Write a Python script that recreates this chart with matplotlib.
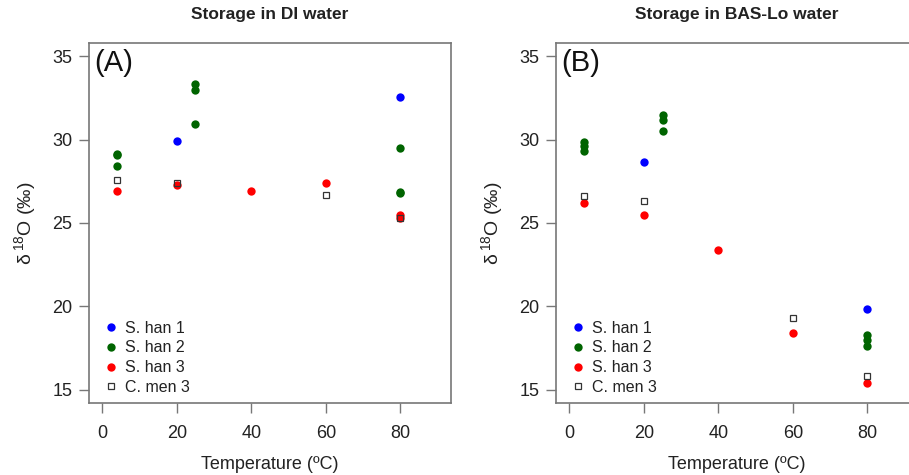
import matplotlib
matplotlib.use("Agg")
import matplotlib.pyplot as plt

plt.rcParams['font.family'] = ['Liberation Sans', 'DejaVu Sans']
plt.rcParams['mathtext.default'] = 'regular'

# panel A: storage in DI water
a_han1_x = [20, 80]
a_han1_y = [29.9, 32.55]
a_han2_x = [4, 4, 4, 25, 25, 25, 80, 80, 80]
a_han2_y = [29.15, 29.05, 28.4, 33.35, 33.0, 30.95, 29.5, 26.85, 26.8]
a_han3_x = [4, 20, 40, 60, 80, 80]
a_han3_y = [26.9, 27.3, 26.9, 27.4, 25.45, 25.3]
a_cmen3_x = [4, 20, 60, 80]
a_cmen3_y = [27.6, 27.4, 26.7, 25.3]

# panel B: storage in BAS-Lo water
b_han1_x = [20, 80]
b_han1_y = [28.65, 19.85]
b_han2_x = [4, 4, 4, 25, 25, 25, 80, 80, 80]
b_han2_y = [29.85, 29.6, 29.3, 31.45, 31.15, 30.5, 18.3, 18.0, 17.6]
b_han3_x = [4, 20, 40, 60, 80]
b_han3_y = [26.2, 25.5, 23.4, 18.4, 15.4]
b_cmen3_x = [4, 20, 60, 80]
b_cmen3_y = [26.6, 26.3, 19.3, 15.8]

labels = ["S. han 1", "S. han 2", "S. han 3", "C. men 3"]
titles = ["Storage in DI water", "Storage in BAS-Lo water"]
tags = ["(A)", "(B)"]
xticks = [0, 20, 40, 60, 80]
yticks = [15, 20, 25, 30, 35]

fig = plt.figure(figsize=(9.09, 4.75), dpi=100)
ax_a = fig.add_axes([0.0979, 0.1516, 0.3982, 0.758])
ax_b = fig.add_axes([0.6117, 0.1516, 0.3982, 0.758])

panels = [
    (ax_a, a_han1_x, a_han1_y, a_han2_x, a_han2_y, a_han3_x, a_han3_y, a_cmen3_x, a_cmen3_y),
    (ax_b, b_han1_x, b_han1_y, b_han2_x, b_han2_y, b_han3_x, b_han3_y, b_cmen3_x, b_cmen3_y),
]

for i, (ax, x1, y1, x2, y2, x3, y3, x4, y4) in enumerate(panels):
    ax.plot(x1, y1, 'o', color='#0000ff', ms=6, mec='none', label=labels[0])
    ax.plot(x2, y2, 'o', color='#006400', ms=6, mec='none', label=labels[1])
    ax.plot(x3, y3, 'o', color='#ff0000', ms=6, mec='none', label=labels[2])
    ax.plot(x4, y4, 's', mfc='none', mec='#333333', ms=4.5, mew=0.9, label=labels[3])

    ax.set_xlim(-3.6, 93.6)
    ax.set_ylim(14.2, 35.8)
    ax.set_xticks(xticks)
    ax.set_yticks(yticks)
    ax.tick_params(direction='out', length=7, width=1, color='#777777',
                   labelsize=13, labelcolor='#222222')
    ax.tick_params(axis='x', pad=9)
    ax.tick_params(axis='y', pad=5)
    for sp in ax.spines.values():
        sp.set_color('#777777')
        sp.set_linewidth(1.2)

    ax.set_title(titles[i], fontsize=12.5, fontweight='bold', pad=17, color='#222222')
    ax.set_xlabel("Temperature (ºC)", fontsize=13, color='#222222', labelpad=10)
    ax.set_ylabel("δ$\\,^{18}$O (‰)", fontsize=14, color='#222222', labelpad=10)
    ax.text(0.015, 0.983, tags[i], transform=ax.transAxes, fontsize=21,
            va='top', ha='left', color='#111111')

    ax.legend(loc='lower left', bbox_to_anchor=(0.02, 0.0), frameon=False,
              fontsize=11.5, handlelength=0.8, handletextpad=0.5,
              labelspacing=0.3, borderaxespad=0.2, borderpad=0.3,
              labelcolor='#222222')

fig.savefig("out.png", dpi=100)
